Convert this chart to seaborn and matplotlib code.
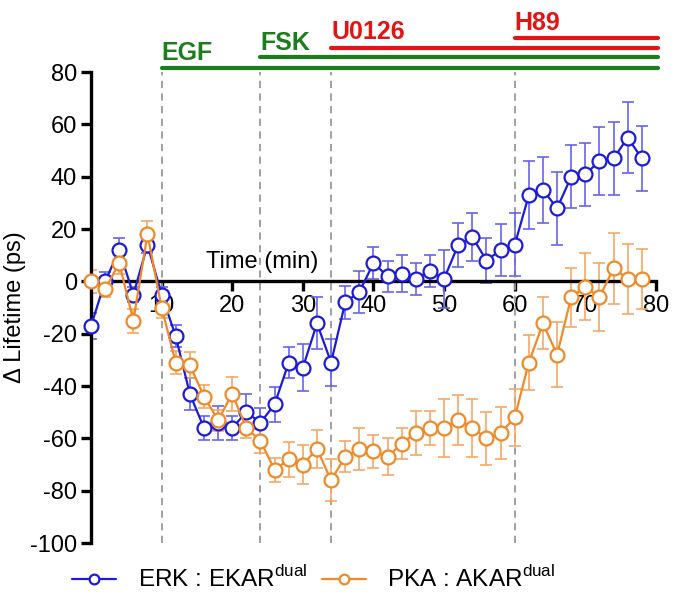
import pandas as pd
import seaborn as sns
import matplotlib.pyplot as plt

# Style
sns.set_style("ticks")
plt.rcParams['font.family'] = ['Liberation Sans', 'DejaVu Sans']
plt.rcParams['mathtext.fontset'] = 'custom'
plt.rcParams['mathtext.rm'] = 'Liberation Sans'
plt.rcParams['axes.unicode_minus'] = False
for k in ['text.color', 'axes.labelcolor', 'xtick.color', 'ytick.color', 'axes.edgecolor']:
    plt.rcParams[k] = 'black'

# Data
time_min = [0, 2, 4, 6, 8, 10, 12, 14, 16, 18, 20, 22, 24, 26, 28, 30, 32, 34, 36, 38,
            40, 42, 44, 46, 48, 50, 52, 54, 56, 58, 60, 62, 64, 66, 68, 70, 72, 74, 76, 78]
erk = [-17, 0, 12, -5, 14, -5, -21, -43, -56, -54, -56, -50, -54, -47, -31, -33, -16, -31, -8, -4,
       7, 2, 3, 1, 4, 1, 14, 17, 8, 12, 14, 33, 35, 28, 40, 41, 46, 47, 55, 47]
erk_err = [5, 3.5, 4.5, 3, 3, 3, 4.2, 6, 4.6, 6.5, 4.7, 6.8, 5.7, 6.7, 6, 9, 10, 9, 6.4, 8,
           6, 6, 7, 6, 6, 11, 8.5, 9, 8.5, 10, 12, 13, 12.7, 14, 12, 12, 13, 14, 13.6, 12.6]
pka = [0, -3, 7, -15, 18, -10, -31, -32, -44, -53, -43, -56, -61, -72, -68, -70, -64, -76, -67, -64,
       -65, -67, -62, -58, -56, -56, -53, -56, -60, -58, -52, -31, -16, -28, -6, -2, -6, 5, 1, 1]
pka_err = [4.5, 3, 4, 4.6, 5, 4, 4.3, 5, 4.3, 4, 6.5, 4, 4.5, 4.5, 6.6, 7.3, 7.3, 8, 6, 8,
           6.4, 7, 6, 8.5, 6.6, 11, 9.5, 11, 10, 10, 11, 10.5, 10, 12.5, 11.3, 12.7, 13, 13.5, 13.4, 11.4]

# Treatments: name, start time, colour
treat_names = ['EGF', 'FSK', 'U0126', 'H89']
treat_start = [10, 24, 34, 60]
treat_colors = ['#1b7d1b', '#1b7d1b', '#e31414', '#e31414']
treat_line_y = [81.6, 85.7, 89.1, 92.9]
treat_text_y = [84.6, 88.6, 92.6, 96.2]

df = pd.DataFrame({'time': time_min * 2,
                   'value': erk + pka,
                   'err': erk_err + pka_err,
                   'series': ['ERK'] * len(erk) + ['PKA'] * len(pka)})

series = [('ERK', '#1c1cd8', '#6565ee', 'ERK : EKAR$^{\\mathrm{dual}}$'),
          ('PKA', '#f08a28', '#f5a865', 'PKA : AKAR$^{\\mathrm{dual}}$')]

fig = plt.figure(figsize=(6.75, 5.96), dpi=100)
ax = fig.add_axes([0.1348, 0.0889, 0.837, 0.790])

# Dashed treatment markers
for t in treat_start:
    ax.axvline(t, ymin=0, ymax=1, color='#999999', ls=(0, (4, 3)), lw=1.3, zorder=1)

handles = []
for key, col, ecol, label in series:
    sub = df[df['series'] == key]
    ax.errorbar(sub['time'], sub['value'], yerr=sub['err'], fmt='none', ecolor=ecol,
                elinewidth=1.2, capsize=4, capthick=1.2, zorder=2)
    sns.lineplot(data=sub, x='time', y='value', color=col, marker='o', markersize=10,
                 markerfacecolor='white', markeredgecolor=col, markeredgewidth=1.6,
                 lw=1.6, ax=ax, clip_on=False, zorder=3, label=label, legend=False)
    handles.append(ax.lines[-1])

# Treatment bars above the plot
for name, start, col, ly, ty in zip(treat_names, treat_start, treat_colors, treat_line_y, treat_text_y):
    ax.plot([start, 80.3], [ly, ly], color=col, lw=3, solid_capstyle='round', clip_on=False)
    ax.text(start, ty, name, color=col, fontsize=18, fontweight='bold', ha='left',
            va='baseline', clip_on=False)

# Axes styling
ax.set_xlim(0, 80)
ax.set_ylim(-100, 80)
ax.set_xticks([10, 20, 30, 40, 50, 60, 70, 80])
ax.set_yticks(range(-100, 81, 20))
ax.spines['bottom'].set_position(('data', 0))
ax.spines['top'].set_visible(False)
ax.spines['right'].set_visible(False)
for s in ['left', 'bottom']:
    ax.spines[s].set_linewidth(2.4)
ax.tick_params(width=2.4, length=7, labelsize=17, direction='out', pad=3)
ax.set_xlabel('')
ax.set_ylabel('Δ Lifetime (ps)', fontsize=17, labelpad=3)
ax.text(24.2, 5, 'Time (min)', fontsize=17, ha='center', va='baseline')

fig.legend(handles=handles, labels=[s[3] for s in series], loc='center',
           bbox_to_anchor=(0.465, 0.028), ncol=2, frameon=False, fontsize=17.5,
           handlelength=1.8, handletextpad=0.9, columnspacing=0.6, markerscale=0.7)

plt.savefig('out.png', dpi=100)
plt.close()
